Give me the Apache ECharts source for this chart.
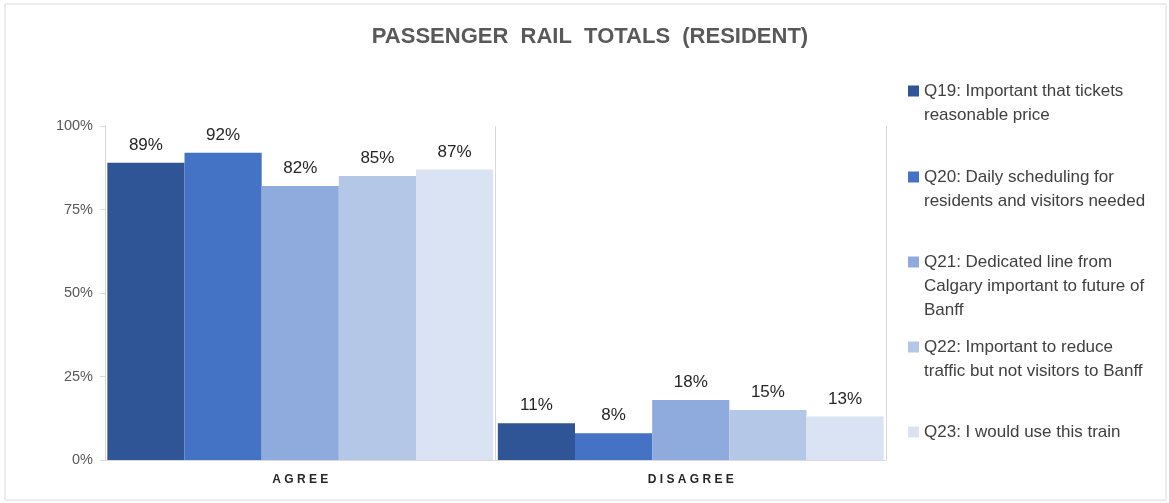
<!DOCTYPE html>
<html>
<head>
<meta charset="utf-8">
<script src="https://cdn.jsdelivr.net/npm/echarts@6/dist/echarts.min.js"></script>
<style>
  html, body { margin: 0; padding: 0; background: #fff; }
  #main { width: 1169px; height: 503px; }
</style>
</head>
<body>
<div id="main"></div>
<script>
// 数据
var categories = ['AGREE', 'DISAGREE'];
var seriesNames = [
  'Q19: Important that tickets\nreasonable price',
  'Q20: Daily scheduling for\nresidents and visitors needed',
  'Q21: Dedicated line from\nCalgary important to future of\nBanff',
  'Q22: Important to reduce\ntraffic but not visitors to Banff',
  'Q23: I would use this train'
];
var q19 = [89, 11];
var q20 = [92, 8];
var q21 = [82, 18];
var q22 = [85, 15];
var q23 = [87, 13];
var yTicks = [0, 25, 50, 75, 100];

var colors = ['#2F5597', '#4472C4', '#8FAADC', '#B4C7E7', '#DAE3F3'];
var seriesData = [q19, q20, q21, q22, q23];
var font = '"Liberation Sans", Arial, sans-serif';

// 图例位置（每项首行中心）
var legendY = [91, 177, 262, 347, 432];
var LH = 24;

var chart = echarts.init(document.getElementById('main'));

// 每个图例单独放置，前面补空行让方块对齐第一行
var legends = seriesNames.map(function (name, i) {
  var lines = name.split('\n').length;
  return {
    data: [name],
    orient: 'vertical',
    left: 908,
    top: legendY[i] - (2 * lines - 1) * LH / 2,
    padding: 0,
    icon: 'rect',
    itemWidth: 11,
    itemHeight: 11,
    itemGap: 0,
    selectedMode: false,
    formatter: function (n) {
      return new Array(lines).join('\n') + n;
    },
    textStyle: {
      fontFamily: font,
      fontSize: 17,
      color: '#404040',
      lineHeight: LH
    }
  };
});

var option = {
  backgroundColor: '#ffffff',
  animation: false,
  color: colors,
  title: {
    text: 'PASSENGER  RAIL  TOTALS  (RESIDENT)',
    left: 585,
    textAlign: 'center',
    top: 21,
    textStyle: {
      fontFamily: font,
      fontSize: 22,
      fontWeight: 'bold',
      color: '#595959'
    }
  },
  legend: legends,
  grid: {
    left: 105,
    top: 126,
    width: 781,
    bottom: 43,
    containLabel: false
  },
  xAxis: {
    type: 'category',
    data: categories,
    axisLine: { lineStyle: { color: '#D9D9D9' } },
    axisTick: { show: false },
    splitLine: { show: true, lineStyle: { color: '#D9D9D9' } },
    axisLabel: {
      margin: 14,
      fontFamily: font,
      fontSize: 12,
      fontWeight: 'bold',
      color: '#262626',
      formatter: function (v) { return v.split('').join(' '); }
    }
  },
  yAxis: {
    type: 'value',
    min: 0,
    max: 100,
    interval: 25,
    axisLine: { show: true, lineStyle: { color: '#D9D9D9' } },
    axisTick: { show: true, length: 5, lineStyle: { color: '#D9D9D9' } },
    splitLine: { show: false },
    axisLabel: {
      margin: 12,
      fontFamily: font,
      fontSize: 14.5,
      color: '#595959',
      formatter: function (v) { return yTicks.indexOf(v) >= 0 ? v + '%' : ''; }
    }
  },
  series: seriesData.map(function (d, i) {
    return {
      name: seriesNames[i],
      type: 'bar',
      data: d,
      barGap: 0,
      barCategoryGap: '1.2%',
      itemStyle: { color: colors[i] },
      label: {
        show: true,
        position: 'top',
        distance: 9,
        fontFamily: font,
        fontSize: 17,
        color: '#262626',
        formatter: '{c}%'
      }
    };
  }),
  graphic: [{
    type: 'rect',
    shape: { x: 5, y: 4, width: 1161, height: 496 },
    style: { fill: 'none', stroke: '#D9D9D9', lineWidth: 1 },
    silent: true
  }]
};

chart.setOption(option);
</script>
</body>
</html>
